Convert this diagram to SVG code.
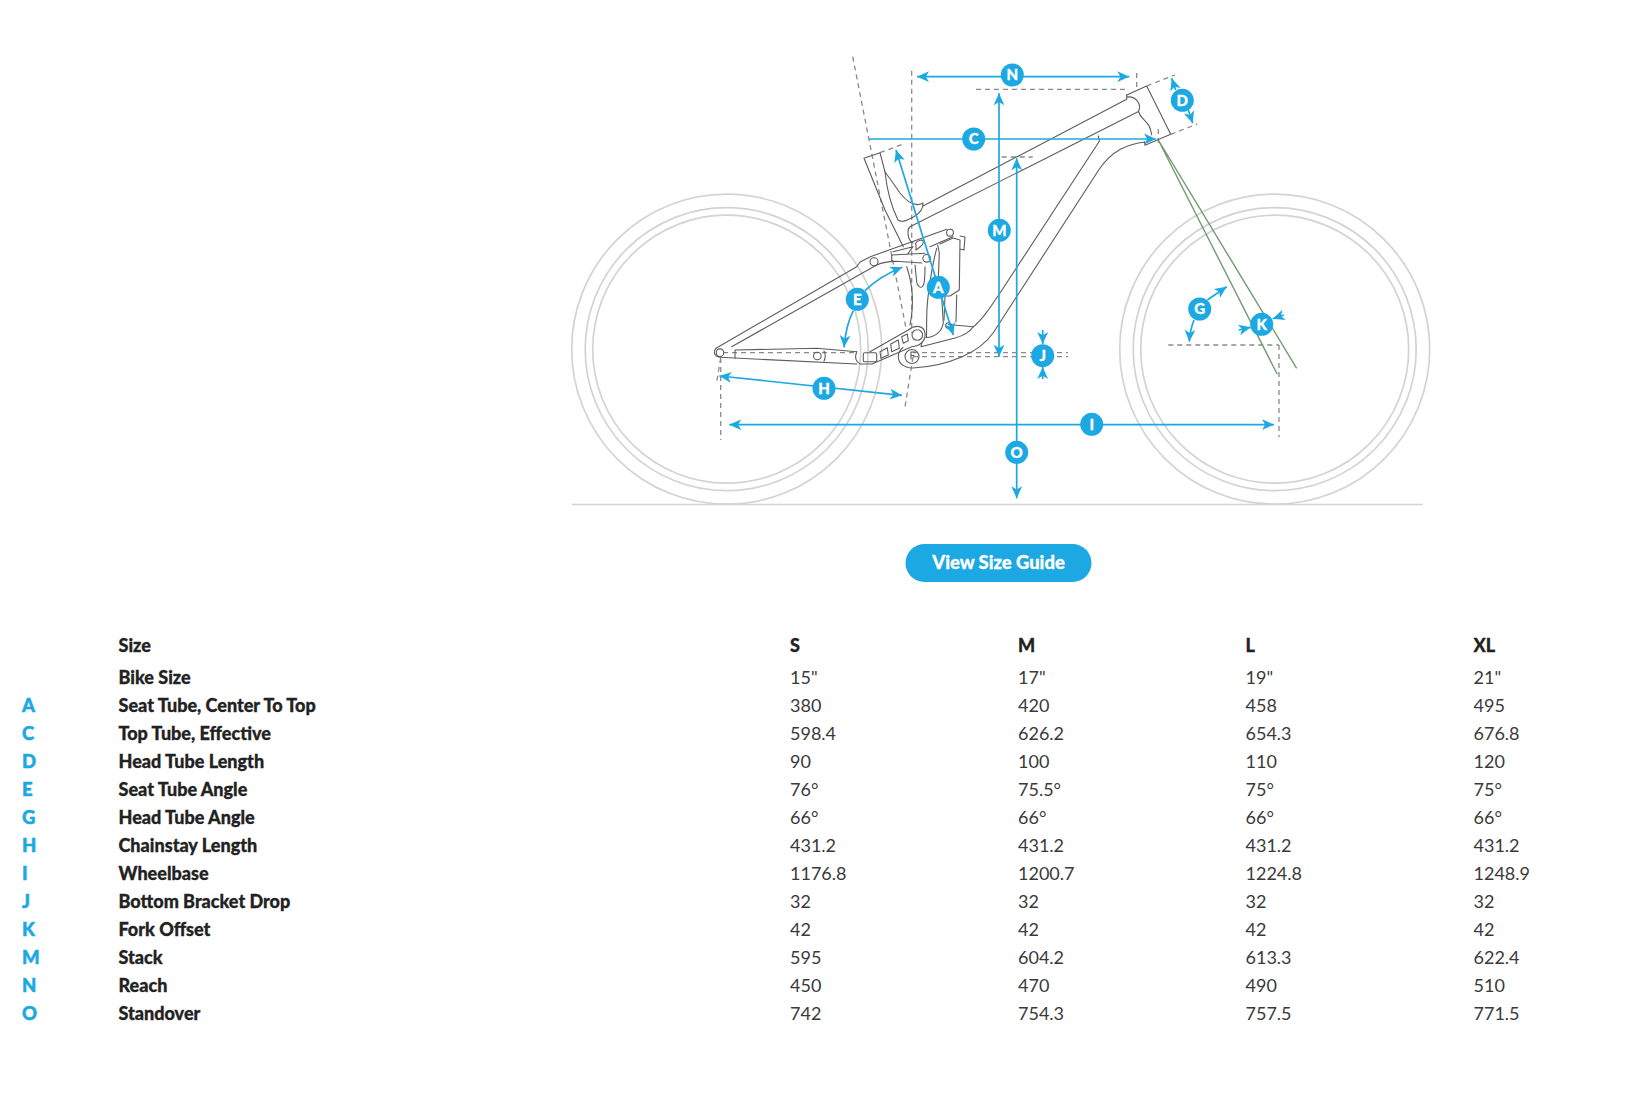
<svg xmlns="http://www.w3.org/2000/svg" width="1634" height="1094" viewBox="0 0 1634 1094">
<style>
.w{fill:none;stroke:#d3d3d3;stroke-width:1.7}
.d{fill:none;stroke:#8a8a8a;stroke-width:1.3;stroke-dasharray:5 4}
.f{fill:none;stroke:#5c5c5c;stroke-width:1.1;stroke-linejoin:round;stroke-linecap:round}
.g{fill:none;stroke:#6f9c70;stroke-width:1.4}
.a{fill:none;stroke:#1ca8e2;stroke-width:1.7}
.e{marker-end:url(#ah)}
.b{marker-start:url(#ah);marker-end:url(#ah)}
.n circle{fill:#1ca8e2}
.n text{font-family:Lato,"Liberation Sans",sans-serif;font-weight:900;font-size:15px;fill:#fff;text-anchor:middle;stroke:#fff;stroke-width:.3}
.h{font-family:Lato,"Liberation Sans",sans-serif;font-weight:900;font-size:18px;fill:#222;stroke:#222;stroke-width:.3}
.v{font-family:Lato,"Liberation Sans",sans-serif;font-size:18px;fill:#3a3a3a}
.k{font-family:Lato,"Liberation Sans",sans-serif;font-weight:900;font-size:18.5px;fill:#1ca8e2;stroke:#1ca8e2;stroke-width:.5}
.t{font-family:Lato,"Liberation Sans",sans-serif;font-weight:900;font-size:18.4px;fill:#fff;stroke:#fff;stroke-width:.3;text-anchor:middle}
</style>
<defs>
<marker id="ah" markerUnits="userSpaceOnUse" markerWidth="13" markerHeight="12" refX="12" refY="6" orient="auto-start-reverse">
<path d="M12,6 L0,0.6 L3.2,6 L0,11.4 Z" fill="#1ca8e2"/>
</marker>
</defs>
<rect width="1634" height="1094" fill="#fff"/>
<g id="wheels">
<circle class="w" cx="726.7" cy="349.2" r="155"/><circle class="w" cx="726.7" cy="349.2" r="141.5"/><circle class="w" cx="726.7" cy="349.2" r="134"/>
<circle class="w" cx="1274.7" cy="349.2" r="155"/><circle class="w" cx="1274.7" cy="349.2" r="141.5"/><circle class="w" cx="1274.7" cy="349.2" r="134"/>
<path class="w" d="M571.7,504.5H1422.7"/>
</g>
<g id="guides">
<path class="d" d="M852.7,56.7L905.7,326.7"/>
<path class="d" d="M913,357L905,407"/>
<path class="d" d="M911.7,70.7V333"/>
<path class="d" d="M976,89.3H1127"/>
<path class="d" d="M1136.7,73V90"/>
<path class="d" d="M1001.7,157H1032.7"/>
<path class="d" d="M913,352.7H1068M913,356.7H1068"/>
<path class="d" d="M723,352.7H857"/>
<path class="d" d="M720.7,358V440M720.7,358L716.7,381.7"/>
<path class="d" d="M1168.3,345H1279M1279,345V437.3"/>
<path class="d" d="M1146.7,86L1175,75M1170.7,134.3L1197.3,124M880,152.7L905,143.3"/>
<path class="d" d="M1158.3,129V146"/>
</g>
<g id="fork">
<path class="g" d="M1158.3,140L1277.3,374.3M1158.3,140L1296.7,368.3"/>
</g>
<g id="frame">
<path class="f" d="M1126.7,95L1146.7,86L1170.7,134.3L1145,145.3L1144.5,142"/>
<path class="f" d="M1126.7,95L1126.7,99.3L923,206"/>
<path class="f" d="M1127,97C1136,96 1142,104 1138.5,111.5L910,226.7C907,229 907,240 913,243"/>
<path class="f" d="M1138.5,111.5C1141,121 1150,120 1151.7,135"/>
<path class="f" d="M1098.3,136L1099.5,141L1002,290C990,308 982,320 973.3,326.7"/>
<path class="f" d="M1145,142C1128,144 1112,150 1098.7,170L993.3,332.7C980,352 950,366 913,368C905,368 898.3,364 898.3,356.7C898.3,351 901,349 903,347.5"/>
<path class="f" d="M973.3,326.7L948.3,324.5M973.3,326.7C969,333 962,336 955,338L921,346.7L922,342"/>
<path class="f" d="M885,172L880,152.7L864,158.3L885,210L903.3,246.7"/>
<path class="f" d="M885,172C887,190 892,208 898,220C902,223 908,220 915,216C920,213 923,209 923,203C916,207 908,203 900,193C895,186 889,177 885,172Z"/>
<path class="f" d="M906.7,266.7C913,285 914,305 910,325"/>
<path class="f" d="M915,265L916.7,281.7C917,286 921,289 923,286C925,283 925,275 925,266.7"/>
<path class="f" d="M716,348.3L856.7,266.7L860,262L871,256.5L946.7,229.3"/>
<path class="f" d="M953,236.7L930,246.7"/>
<path class="f" d="M731.7,346.7L876.7,265C885,261 892,261 900,261.5L921.7,263"/>
<path class="f" d="M891.7,255L925,253.3M891.7,255V261.5M893,251.7L913,246.7L908,253.5"/>
<circle class="f" cx="874" cy="261.7" r="4"/><circle class="f" cx="950" cy="232.7" r="3.4"/><circle class="f" cx="926.7" cy="258.3" r="3.8"/>
<path class="f" d="M916,245C914,242 920,240 922,240C924,241 924,244 920,247L916,250Z"/>
<circle class="f" cx="720" cy="352.7" r="3.8"/>
<path class="f" d="M716,348.3C713,352 714,356 720,357.3L856.7,364"/>
<path class="f" d="M735,350L816.7,348.3L856.7,351.7M735,350V358.3"/>
<circle class="f" cx="817.3" cy="356" r="3.8"/><path class="f" d="M824,351C825.5,354 825.5,358 824,361"/>
<path class="f" d="M856.7,351.7C855,356 855,361 860,364L872,364L911.7,346.7C920,346 926,341 925,333C924,326 916,324 908.3,330L870,351.7"/>
<rect class="f" x="863.3" y="352.7" width="13.4" height="9" rx="1.5"/>
<path class="f" d="M880,351.7L887.3,347.7L888.3,355L881,358.3ZM890.7,344L898.3,340L899.3,348.3L891.7,351.7ZM901.7,336.7L907.3,334L908.3,340.7L903.3,343.3Z"/>
<circle class="f" cx="917.3" cy="335" r="5.3"/><circle class="f" cx="912" cy="356.5" r="7"/>
<path class="f" d="M911,352V359M911,352H915M911,355.5H914"/>
<path class="f" d="M937.7,245L939.3,253L938.3,280M940,244L953,238L960,240L959.3,290L950,296H945L944,294M960,236L965,237L964,250L960,249"/>
<path class="f" d="M945,296L944,320M956.7,295L956,321.7M936.7,248.3C933,262 927,295 926.7,316L926.5,337"/>
<path class="f" d="M941.7,296.7L943.3,323C942,331 936,337 926,337.5"/>
<circle class="f" cx="948.5" cy="325.5" r="2.8"/>
</g>
<g id="connectors">
<path class="a b" d="M917,76.7H1129.3"/>
<path class="a b" d="M999,93.3V356.7"/>
<path class="a e" d="M869,139H1156"/>
<path class="a b" d="M1016.7,158.3V498.3"/>
<path class="a b" d="M729.3,424.7H1274"/>
<path class="a b" d="M719.3,376L902,395.3"/>
<path class="a e" d="M865,290.7Q880,276 902.3,267.3"/>
<path class="a e" d="M853.3,310.7Q846,325 844,347.3"/>
<path class="a b" d="M896,150L953.3,335"/>
<path class="a e" d="M1042.7,330V344"/>
<path class="a e" d="M1042.7,379V367"/>
<path class="a e" d="M1238.7,330L1250.7,327.3"/>
<path class="a e" d="M1284,315L1272.7,318.7"/>
<path class="a e" d="M1207.3,300L1226.7,286.7"/>
<path class="a e" d="M1194,320Q1190,330 1189.3,341.7"/>
<path class="a e" d="M1175.7,90L1171.7,78.3"/>
<path class="a e" d="M1188.3,110L1192.7,123.3"/>
</g>
<g id="label-N" class="n"><circle cx="1012.3" cy="75" r="11.5"/><text x="1012.3" y="80.4">N</text></g>
<g id="label-D" class="n"><circle cx="1182.3" cy="100.3" r="11.5"/><text x="1182.3" y="105.7">D</text></g>
<g id="label-C" class="n"><circle cx="973.7" cy="139" r="11.5"/><text x="973.7" y="144.4">C</text></g>
<g id="label-M" class="n"><circle cx="999.3" cy="230.3" r="11.5"/><text x="999.3" y="235.7">M</text></g>
<g id="label-A" class="n"><circle cx="938.3" cy="287.3" r="11.5"/><text x="938.3" y="292.7">A</text></g>
<g id="label-E" class="n"><circle cx="857.3" cy="299.3" r="11.5"/><text x="857.3" y="304.7">E</text></g>
<g id="label-G" class="n"><circle cx="1199.7" cy="309" r="11.5"/><text x="1199.7" y="314.4">G</text></g>
<g id="label-K" class="n"><circle cx="1261.7" cy="324.3" r="11.5"/><text x="1261.7" y="329.7">K</text></g>
<g id="label-J" class="n"><circle cx="1042.7" cy="355.7" r="11.5"/><text x="1042.7" y="361.1">J</text></g>
<g id="label-H" class="n"><circle cx="824" cy="388.3" r="11.5"/><text x="824" y="393.7">H</text></g>
<g id="label-I" class="n"><circle cx="1091.7" cy="424.3" r="11.5"/><text x="1091.7" y="429.7">I</text></g>
<g id="label-O" class="n"><circle cx="1016.7" cy="452.3" r="11.5"/><text x="1016.7" y="457.7">O</text></g>
<g id="button"><rect x="905.5" y="544" width="186" height="38" rx="19" fill="#1ca8e2"/><text class="t" x="998.5" y="569">View Size Guide</text></g>
<g id="table">
<text class="h" x="118.5" y="652">Size</text><text class="h" x="790" y="652">S</text><text class="h" x="1018" y="652">M</text><text class="h" x="1245.5" y="652">L</text><text class="h" x="1473.5" y="652">XL</text>
<text class="h" x="118.5" y="684">Bike Size</text><text class="v" x="790" y="684">15"</text><text class="v" x="1018" y="684">17"</text><text class="v" x="1245.5" y="684">19"</text><text class="v" x="1473.5" y="684">21"</text>
<text class="k" x="22" y="712">A</text><text class="h" x="118.5" y="712">Seat Tube, Center To Top</text><text class="v" x="790" y="712">380</text><text class="v" x="1018" y="712">420</text><text class="v" x="1245.5" y="712">458</text><text class="v" x="1473.5" y="712">495</text>
<text class="k" x="22" y="740">C</text><text class="h" x="118.5" y="740">Top Tube, Effective</text><text class="v" x="790" y="740">598.4</text><text class="v" x="1018" y="740">626.2</text><text class="v" x="1245.5" y="740">654.3</text><text class="v" x="1473.5" y="740">676.8</text>
<text class="k" x="22" y="768">D</text><text class="h" x="118.5" y="768">Head Tube Length</text><text class="v" x="790" y="768">90</text><text class="v" x="1018" y="768">100</text><text class="v" x="1245.5" y="768">110</text><text class="v" x="1473.5" y="768">120</text>
<text class="k" x="22" y="796">E</text><text class="h" x="118.5" y="796">Seat Tube Angle</text><text class="v" x="790" y="796">76°</text><text class="v" x="1018" y="796">75.5°</text><text class="v" x="1245.5" y="796">75°</text><text class="v" x="1473.5" y="796">75°</text>
<text class="k" x="22" y="824">G</text><text class="h" x="118.5" y="824">Head Tube Angle</text><text class="v" x="790" y="824">66°</text><text class="v" x="1018" y="824">66°</text><text class="v" x="1245.5" y="824">66°</text><text class="v" x="1473.5" y="824">66°</text>
<text class="k" x="22" y="852">H</text><text class="h" x="118.5" y="852">Chainstay Length</text><text class="v" x="790" y="852">431.2</text><text class="v" x="1018" y="852">431.2</text><text class="v" x="1245.5" y="852">431.2</text><text class="v" x="1473.5" y="852">431.2</text>
<text class="k" x="22" y="880">I</text><text class="h" x="118.5" y="880">Wheelbase</text><text class="v" x="790" y="880">1176.8</text><text class="v" x="1018" y="880">1200.7</text><text class="v" x="1245.5" y="880">1224.8</text><text class="v" x="1473.5" y="880">1248.9</text>
<text class="k" x="22" y="908">J</text><text class="h" x="118.5" y="908">Bottom Bracket Drop</text><text class="v" x="790" y="908">32</text><text class="v" x="1018" y="908">32</text><text class="v" x="1245.5" y="908">32</text><text class="v" x="1473.5" y="908">32</text>
<text class="k" x="22" y="936">K</text><text class="h" x="118.5" y="936">Fork Offset</text><text class="v" x="790" y="936">42</text><text class="v" x="1018" y="936">42</text><text class="v" x="1245.5" y="936">42</text><text class="v" x="1473.5" y="936">42</text>
<text class="k" x="22" y="964">M</text><text class="h" x="118.5" y="964">Stack</text><text class="v" x="790" y="964">595</text><text class="v" x="1018" y="964">604.2</text><text class="v" x="1245.5" y="964">613.3</text><text class="v" x="1473.5" y="964">622.4</text>
<text class="k" x="22" y="992">N</text><text class="h" x="118.5" y="992">Reach</text><text class="v" x="790" y="992">450</text><text class="v" x="1018" y="992">470</text><text class="v" x="1245.5" y="992">490</text><text class="v" x="1473.5" y="992">510</text>
<text class="k" x="22" y="1020">O</text><text class="h" x="118.5" y="1020">Standover</text><text class="v" x="790" y="1020">742</text><text class="v" x="1018" y="1020">754.3</text><text class="v" x="1245.5" y="1020">757.5</text><text class="v" x="1473.5" y="1020">771.5</text>
</g>
</svg>
